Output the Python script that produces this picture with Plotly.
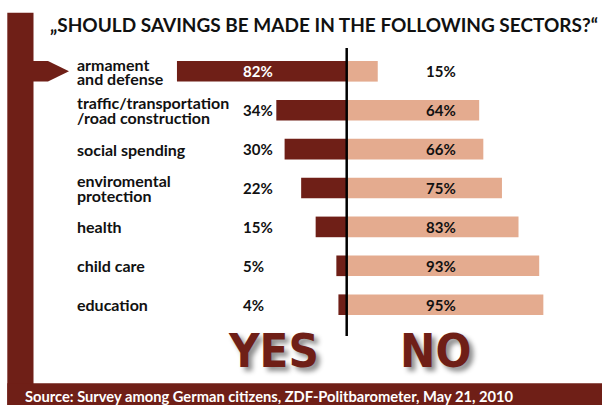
import plotly.graph_objects as go

categories = ["armament\nand defense", "traffic/transportation\n/road construction",
              "social spending", "enviromental\nprotection", "health", "child care", "education"]
yes_values = [82, 34, 30, 22, 15, 5, 4]
no_values = [15, 64, 66, 75, 83, 93, 95]
yes_labels = [f"{v}%" for v in yes_values]
no_labels = [f"{v}%" for v in no_values]

title_text = "„SHOULD SAVINGS BE MADE IN THE FOLLOWING SECTORS?“"
source_text = "Source: Survey among German citizens, ZDF-Politbarometer, May 21, 2010"

DARK = "#6f1f17"
LIGHT = "#e4ab8f"
FONT = "Lato, 'Open Sans', sans-serif"

W, H = 602, 405
cx = 346.7      # pixel of zero line
ppu = 2.07      # pixels per percent
y0 = 71.3       # pixel of first row centre
dy = 38.9       # row spacing px

ys = list(range(len(categories)))

fig = go.Figure()
fig.add_trace(go.Bar(y=ys, x=[-v for v in yes_values], orientation="h",
                     marker=dict(color=DARK, line=dict(width=0)), width=0.53,
                     hoverinfo="skip", showlegend=False))
fig.add_trace(go.Bar(y=ys, x=no_values, orientation="h",
                     marker=dict(color=LIGHT, line=dict(width=0)), width=0.53,
                     hoverinfo="skip", showlegend=False))

ann = []
px2x = lambda px: (px - cx) / ppu
for i, cat in enumerate(categories):
    lines = cat.split("\n")
    n = len(lines)
    for j, ln in enumerate(lines):
        shift = (-(j - (n - 1) / 2)) * 14.5
        ann.append(dict(x=px2x(74.5), y=i, xref="x", yref="y", text=ln, showarrow=False,
                        xanchor="left", yanchor="middle", yshift=shift,
                        font=dict(family=FONT, size=16, color="#111111", weight="bold")))
    ann.append(dict(x=px2x(240.5), y=i, xref="x", yref="y", text=yes_labels[i], showarrow=False,
                    xanchor="left", yanchor="middle",
                    font=dict(family=FONT, size=15, color="white" if yes_values[i] > 50 else "#111111",
                              weight="bold")))
    ann.append(dict(x=px2x(423.5), y=i, xref="x", yref="y", text=no_labels[i], showarrow=False,
                    xanchor="left", yanchor="middle",
                    font=dict(family=FONT, size=15, color="#111111", weight="bold")))

# title
ann.append(dict(x=48 / W, y=1 - 24.5 / H, xref="paper", yref="paper", text=title_text,
                showarrow=False, xanchor="left", yanchor="middle",
                font=dict(family=FONT, size=19, color="#111111", weight="bold")))
# source
ann.append(dict(x=23 / W, y=1 - 396 / H, xref="paper", yref="paper", text=source_text,
                showarrow=False, xanchor="left", yanchor="middle",
                font=dict(family=FONT, size=14.7, color="white", weight="bold")))
# YES / NO
big = dict(family="'DejaVu Sans Condensed', sans-serif", size=47,
           color=DARK, weight="bold", shadow="4px 4px 5px rgba(0,0,0,0.45)")
ann.append(dict(x=273.5 / W, y=1 - 350.5 / H, xref="paper", yref="paper", text="YES",
                showarrow=False, xanchor="center", yanchor="middle", font=big))
ann.append(dict(x=435 / W, y=1 - 350.5 / H, xref="paper", yref="paper", text="NO",
                showarrow=False, xanchor="center", yanchor="middle", font=big))

shapes = []
def P(x, y):
    return f"{x / W:.5f},{1 - y / H:.5f}"
# left vertical bar
shapes.append(dict(type="rect", xref="paper", yref="paper", x0=7.3 / W, x1=33.5 / W,
                   y0=0, y1=1 - 12.7 / H, fillcolor=DARK, line=dict(width=0), layer="below"))
# bottom band
shapes.append(dict(type="rect", xref="paper", yref="paper", x0=7.3 / W, x1=1,
                   y0=0, y1=1 - 383.3 / H, fillcolor=DARK, line=dict(width=0), layer="below"))
# arrow
path = ("M " + P(33, 61) + " L " + P(48, 61) + " L " + P(69, 71.3) + " L " + P(48, 81.5)
        + " L " + P(33, 81.5) + " Z").replace(",", " ")
shapes.append(dict(type="path", xref="paper", yref="paper", path=path,
                   fillcolor=DARK, line=dict(width=0)))
# zero line
shapes.append(dict(type="line", xref="x", yref="y", x0=0, x1=0,
                   y0=(48 - y0) / dy, y1=(336 - y0) / dy, line=dict(color="black", width=2.5)))

fig.update_layout(
    width=W, height=H, margin=dict(l=0, r=0, t=0, b=0),
    paper_bgcolor="white", plot_bgcolor="white", barmode="overlay",
    annotations=ann, shapes=shapes,
    xaxis=dict(range=[px2x(0), px2x(W)], showgrid=False, zeroline=False,
               showticklabels=False, fixedrange=True),
    yaxis=dict(range=[(H - y0) / dy, -y0 / dy], showgrid=False, zeroline=False,
               showticklabels=False, fixedrange=True),
)
fig.write_html("out.html")
